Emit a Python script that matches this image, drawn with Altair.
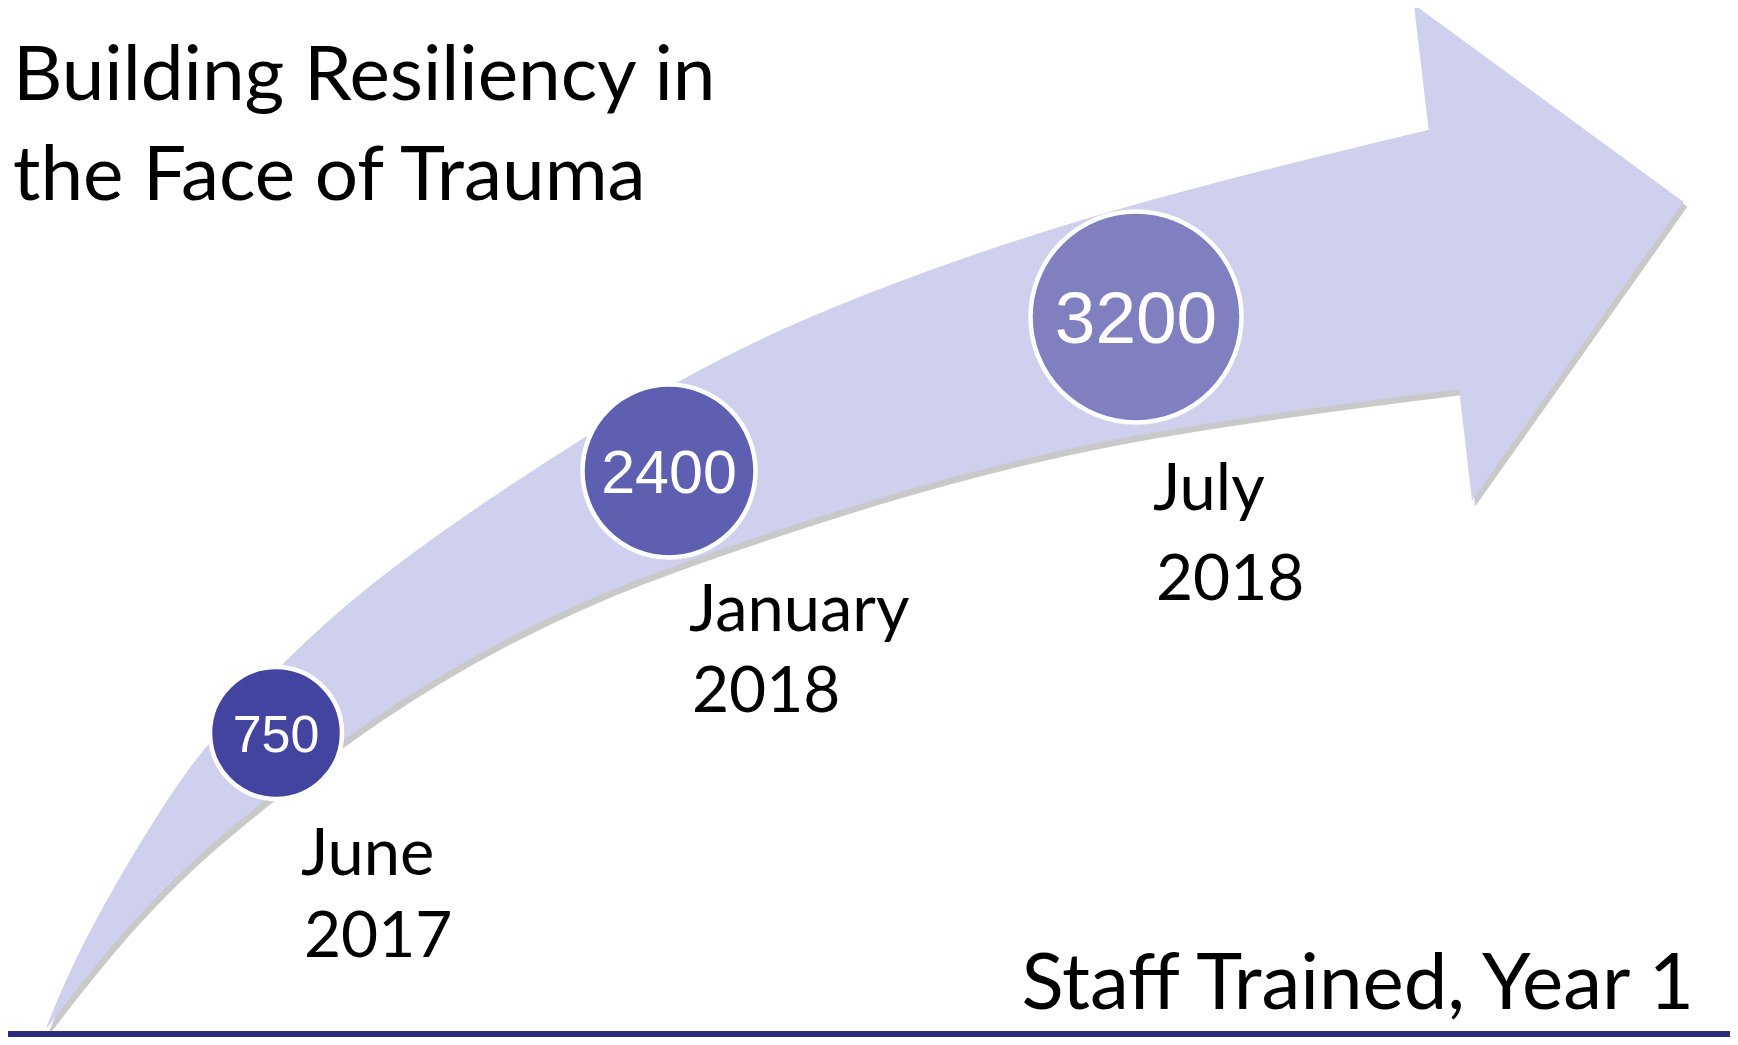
import altair as alt
import pandas as pd

# ---- values ----
counts = [750, 2400, 3200]
months = ["June", "January", "July"]
years = ["2017", "2018", "2018"]
title_lines = ["Building Resiliency in", "the Face of Trauma"]
subtitle = "Staff Trained, Year 1"

# ---- layout (reference pixel space) ----
circle_x = [276, 669, 1136]
circle_y = [733, 471, 317]
circle_r = [66, 86.5, 105.5]
circle_fill = ["#4343A0", "#5F5FB1", "#8080C1"]
number_font = [52, 61, 73]

label_x = [301, 689, 1153]
month_base = [875, 631, 510]
year_base = [957, 712, 600]

upper_x = [47, 63, 95, 154, 203, 285, 395, 667, 843, 1100, 1426, 1455, 1490, 1505]
upper_y = [1027, 987, 920, 820, 747, 660, 560, 382, 300, 210, 131, 124, 116, 114]
lower_x = [47, 78, 132, 200, 240, 343, 467, 600, 723, 867, 1100, 1457, 1485, 1510, 1520]
lower_y = [1027, 987, 920, 853, 820, 737, 657, 592, 548, 500, 435, 389, 386, 384, 383]
head_x = [1414, 1683, 1472]
head_y = [5, 202, 500]

ARROW = "#CFCFEE"
NAVY = "#2D2D7F"

xs = alt.Scale(domain=[8, 1730], nice=False, zero=False)
ys = alt.Scale(domain=[8, 1037], nice=False, zero=False, reverse=True)


def X(f):
    return alt.X(f, type="quantitative", scale=xs, axis=None)


def Y(f):
    return alt.Y(f, type="quantitative", scale=ys, axis=None)


shaft_px = upper_x + lower_x[::-1]
shaft_py = upper_y + lower_y[::-1]
shaft = pd.DataFrame({"x": shaft_px, "y": shaft_py, "i": list(range(len(shaft_px)))})
head = pd.DataFrame({"x": head_x, "y": head_y, "i": [0, 1, 2]})

shaft_shadow = alt.Chart(shaft).mark_line(
    fill="#8a8a8a", stroke="#8a8a8a", strokeWidth=2, opacity=0.45,
    interpolate="basis", xOffset=3, yOffset=5
).encode(x=X("x"), y=Y("y"), order="i:Q")
head_shadow = alt.Chart(head).mark_line(
    fill="#8a8a8a", stroke="#8a8a8a", strokeWidth=2, opacity=0.45,
    xOffset=3, yOffset=5
).encode(x=X("x"), y=Y("y"), order="i:Q")

shaft_layer = alt.Chart(shaft).mark_line(
    fill=ARROW, stroke=ARROW, strokeWidth=1, interpolate="basis"
).encode(x=X("x"), y=Y("y"), order="i:Q")
head_layer = alt.Chart(head).mark_line(
    fill=ARROW, stroke=ARROW, strokeWidth=1
).encode(x=X("x"), y=Y("y"), order="i:Q")

circ = pd.DataFrame({
    "x": circle_x, "y": circle_y,
    "size": [(2 * r) ** 2 for r in circle_r],
    "fill": circle_fill,
    "count": [str(c) for c in counts],
    "fs": number_font,
})
circ["ty"] = circ["y"] + circ["fs"] * 0.716 / 2

circles = alt.Chart(circ).mark_point(
    shape="circle", filled=True, opacity=1, stroke="white", strokeWidth=4.5
).encode(
    x=X("x"), y=Y("y"),
    size=alt.Size("size:Q", scale=None, legend=None),
    fill=alt.Fill("fill:N", scale=None, legend=None),
)
numbers = alt.Chart(circ).mark_text(
    font="Liberation Sans", color="white", align="center", baseline="alphabetic"
).encode(
    x=X("x"), y=Y("ty"), text="count:N",
    size=alt.Size("fs:Q", scale=None, legend=None),
)

labels = pd.DataFrame({"x": label_x, "m": months, "yr": years,
                       "mb": month_base, "yb": year_base})
month_text = alt.Chart(labels).mark_text(
    font="Lato", fontSize=65, color="black", align="left", baseline="alphabetic"
).encode(x=X("x"), y=Y("mb"), text="m:N")
year_text = alt.Chart(labels).mark_text(
    font="Lato", fontSize=64, color="black", align="left", baseline="alphabetic", dx=3
).encode(x=X("x"), y=Y("yb"), text="yr:N")

titles = pd.DataFrame({"t": title_lines, "x": [13, 13], "y": [100, 200]})
title_text = alt.Chart(titles).mark_text(
    font="Lato", fontSize=76.5, color="black", align="left", baseline="alphabetic"
).encode(x=X("x"), y=Y("y"), text="t:N")

sub = pd.DataFrame({"t": [subtitle], "x": [1694], "y": [1009]})
sub_text = alt.Chart(sub).mark_text(
    font="Lato", fontSize=78, color="black", align="right", baseline="alphabetic"
).encode(x=X("x"), y=Y("y"), text="t:N")

base_line = pd.DataFrame({"x": [8], "x2": [1730], "y": [1034]})
rule = alt.Chart(base_line).mark_rule(color=NAVY, strokeWidth=6).encode(
    x=X("x"), x2="x2", y=Y("y")
)

chart = alt.layer(
    shaft_shadow, head_shadow, shaft_layer, head_layer,
    circles, numbers, month_text, year_text, title_text, sub_text, rule
).properties(
    width=1722, height=1029, padding=0,
    autosize=alt.AutoSizeParams(type="none"),
    background="white",
).configure_view(strokeWidth=0)

chart.save("out.html", embed_options={"renderer": "svg", "actions": False})
